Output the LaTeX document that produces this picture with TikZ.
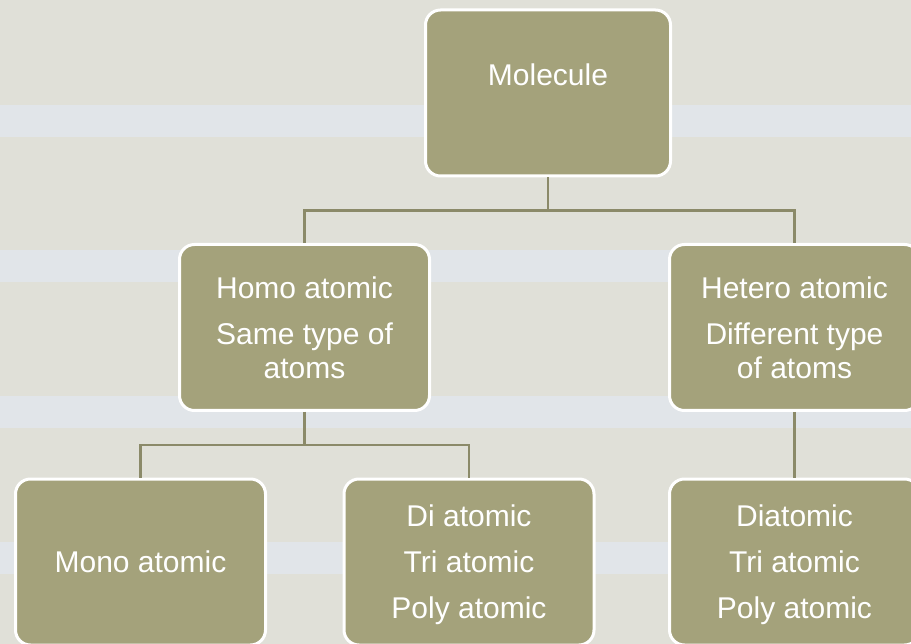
\documentclass[tikz,border=0pt]{standalone}
\usepackage{fontspec}
\setmainfont{Liberation Sans}
\usepackage{xcolor}
\usetikzlibrary{positioning}

\definecolor{bgcol}{HTML}{E0E0D8}
\definecolor{stripecol}{HTML}{E1E5E9}
\definecolor{boxcol}{HTML}{A4A27B}
\definecolor{linecol}{HTML}{8B8A69}

\begin{document}
\begin{tikzpicture}[x=1pt,y=-1pt,node distance=234.5pt,
        every edge/.style={draw=linecol,line width=2.5pt},
        elbow/.style={to path={-- ++(0,33) -| (\tikztotarget)}}]
        \tikzstyle{box}=[draw=white,line width=3pt,fill=boxcol,rounded corners=15pt,
            minimum width=250pt,minimum height=166pt,inner sep=0pt,text depth=0pt,
            align=center,text=white,font=\fontsize{30}{34}\selectfont]

        \useasboundingbox (0,0) rectangle (911,644);
        \clip (0,0) rectangle (911,644);
        \fill[bgcol] (0,0) rectangle (911,644);
        \foreach \y in {105,250,396,542}
            \fill[stripecol] (0,\y) rectangle ++(911,32);

        \node[box,minimum width=245pt,text height=21.5pt,text depth=35.5pt] (mol) at (548,93) {Molecule};
        \node[box] (homo)   [below of=mol, xshift=-243.5pt] {Homo atomic\\[12pt]Same type of\\atoms};
        \node[box] (hetero) [below of=mol, xshift=246.5pt]  {Hetero atomic\\[12pt]Different type\\of atoms};
        \node[box] (mono)   [below of=homo, xshift=-164pt]  {Mono atomic};
        \node[box] (di)     [below of=homo, xshift=164.5pt] {Di atomic\\[12pt]Tri atomic\\[12pt]Poly atomic};
        \node[box] (dia)    [below of=hetero]               {Diatomic\\[12pt]Tri atomic\\[12pt]Poly atomic};

        \path (mol.south)    edge [elbow] (homo.north)
                             edge [elbow] (hetero.north)
              (homo.south)   edge [elbow] (mono.north)
                             edge [elbow] (di.north)
              (hetero.south) edge (dia.north);
    \end{tikzpicture}
\end{document}
